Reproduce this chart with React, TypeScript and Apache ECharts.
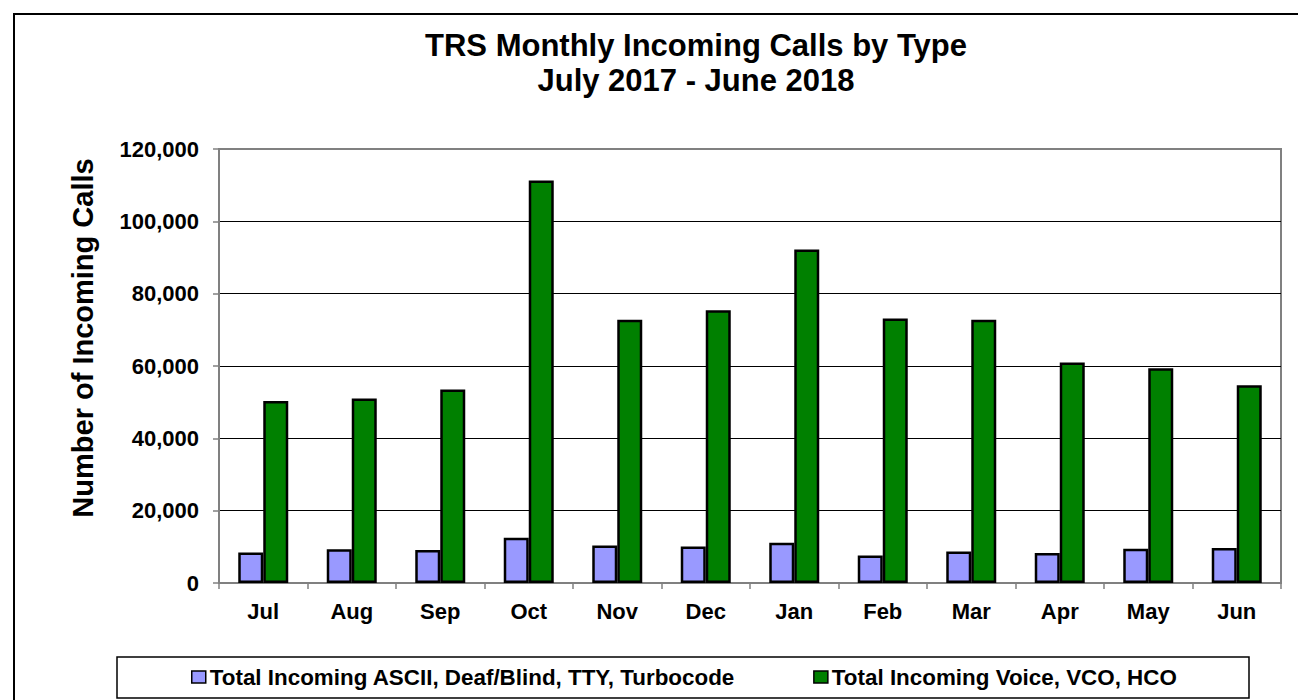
import React, { useEffect, useRef } from 'react';
import * as echarts from 'echarts';

const months = ['Jul', 'Aug', 'Sep', 'Oct', 'Nov', 'Dec', 'Jan', 'Feb', 'Mar', 'Apr', 'May', 'Jun'];
const asciiCalls = [8400, 9300, 9100, 12500, 10400, 10100, 11100, 7600, 8700, 8300, 9500, 9700];
const voiceCalls = [50300, 51000, 53500, 111300, 72800, 75400, 92200, 73100, 72800, 61000, 59400, 54700];
const seriesNames = ['Total Incoming ASCII, Deaf/Blind, TTY, Turbocode', 'Total Incoming Voice, VCO, HCO'];
const titleText = 'TRS Monthly Incoming Calls by Type\nJuly 2017 - June 2018';
const yAxisTitle = 'Number of Incoming Calls';

const FONT = 'Liberation Sans, Arial, sans-serif';

export default function App() {
  const ref = useRef<HTMLDivElement>(null);
  useEffect(() => {
    if (!ref.current) return;
    const chart = echarts.init(ref.current, undefined, { renderer: 'svg' });
    chart.setOption({
      animation: false,
      backgroundColor: '#ffffff',
      textStyle: { fontFamily: FONT },
      title: {
        text: titleText,
        left: 696,
        top: 28,
        padding: 0,
        textAlign: 'center',
        textStyle: { fontSize: 31, fontWeight: 'bold', color: '#000', lineHeight: 35, fontFamily: FONT },
      },
      legend: {
        left: 191,
        top: 666,
        padding: 0,
        itemWidth: 14,
        itemHeight: 12,
        itemGap: 78,
        icon: 'rect',
        itemStyle: { borderColor: '#000', borderWidth: 1.5 },
        textStyle: { fontSize: 22.4, fontWeight: 'bold', color: '#000', fontFamily: FONT, padding: [0, 0, 0, -1] },
        data: seriesNames,
      },
      graphic: [
        {
          type: 'rect',
          shape: { x: 14, y: 14, width: 1320, height: 720 },
          style: { fill: 'none', stroke: '#000', lineWidth: 2 },
          silent: true,
          z: -1,
        },
        {
          type: 'rect',
          shape: { x: 117, y: 657, width: 1132, height: 41 },
          style: { fill: 'none', stroke: '#000', lineWidth: 1.5 },
          silent: true,
        },
        {
          type: 'text',
          x: 83,
          y: 338,
          rotation: Math.PI / 2,
          style: {
            text: yAxisTitle,
            fontSize: 29,
            fontWeight: 'bold',
            fontFamily: FONT,
            fill: '#000',
            align: 'center',
            verticalAlign: 'middle',
          },
        },
      ],
      grid: {
        left: 219,
        right: 17,
        top: 149,
        bottom: 117,
        show: true,
        borderColor: '#808080',
        borderWidth: 2,
        backgroundColor: '#ffffff',
      },
      xAxis: {
        type: 'category',
        data: months,
        axisLine: { lineStyle: { color: '#808080', width: 2 } },
        axisTick: { show: true, length: 6, lineStyle: { color: '#808080', width: 1.5 } },
        axisLabel: { fontSize: 22, fontWeight: 'bold', color: '#000', margin: 17, fontFamily: FONT },
      },
      yAxis: {
        type: 'value',
        min: 0,
        max: 120000,
        interval: 20000,
        axisLine: { show: true, lineStyle: { color: '#808080', width: 2 } },
        axisTick: { show: true, length: 6, lineStyle: { color: '#808080', width: 1.5 } },
        axisLabel: {
          fontSize: 22,
          fontWeight: 'bold',
          color: '#000',
          margin: 20,
          fontFamily: FONT,
          formatter: (v: number) => v.toLocaleString('en-US'),
        },
        splitLine: { show: true, showMinLine: false, showMaxLine: false, lineStyle: { color: '#000', width: 1 } },
      },
      series: [
        {
          name: seriesNames[0],
          type: 'bar',
          data: asciiCalls,
          barWidth: 25,
          barGap: '0%',
          itemStyle: { color: '#9999ff', borderColor: '#000', borderWidth: 2.5 },
        },
        {
          name: seriesNames[1],
          type: 'bar',
          data: voiceCalls,
          barWidth: 25,
          barGap: '0%',
          itemStyle: { color: '#008000', borderColor: '#000', borderWidth: 2.5 },
        },
      ],
    });
    return () => chart.dispose();
  }, []);
  return (
    <div
      ref={ref}
      style={{ position: 'fixed', left: 0, top: 0, width: 1298, height: 700, background: '#fff' }}
    />
  );
}
